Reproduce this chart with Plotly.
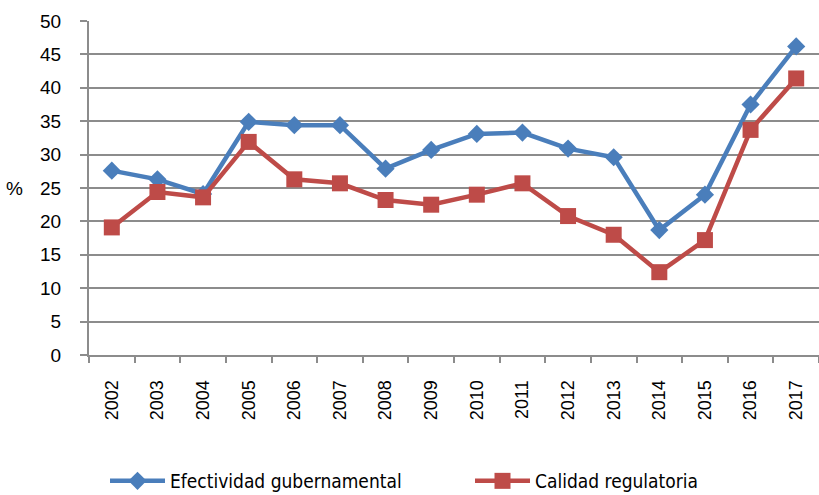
import plotly.graph_objects as go

years = ["2002", "2003", "2004", "2005", "2006", "2007", "2008", "2009",
         "2010", "2011", "2012", "2013", "2014", "2015", "2016", "2017"]
efectividad = [27.6, 26.3, 24.1, 34.9, 34.4, 34.4, 27.9, 30.7,
               33.1, 33.3, 30.9, 29.6, 18.7, 24.0, 37.5, 46.2]
calidad = [19.1, 24.4, 23.6, 31.9, 26.3, 25.7, 23.2, 22.5,
           24.0, 25.7, 20.8, 18.0, 12.4, 17.2, 33.7, 41.4]
y_ticks = [0, 5, 10, 15, 20, 25, 30, 35, 40, 45, 50]

BLUE = "#4A7EBB"
RED = "#BE4B48"
GRID = "#8C8C8C"
NARROW = "DejaVu Sans Condensed, Liberation Sans Narrow, Liberation Sans, sans-serif"

fig = go.Figure()
fig.add_trace(go.Scatter(
    x=years, y=efectividad, name="Efectividad gubernamental",
    mode="lines+markers",
    line=dict(color=BLUE, width=4.5),
    marker=dict(symbol="diamond", size=14, color=BLUE),
))
fig.add_trace(go.Scatter(
    x=years, y=calidad, name="Calidad regulatoria",
    mode="lines+markers",
    line=dict(color=RED, width=4.5),
    marker=dict(symbol="square", size=16, color=RED),
))

fig.update_layout(
    width=819, height=495,
    margin=dict(l=89, r=0, t=21, b=140, autoexpand=False),
    paper_bgcolor="white", plot_bgcolor="white",
    font=dict(family="Liberation Sans, Arial, sans-serif", color="#000000"),
    showlegend=True,
    legend=dict(
        orientation="h", xref="container", yref="container",
        x=105 / 819, xanchor="left", y=1 - 481 / 495, yanchor="middle",
        font=dict(family=NARROW, size=19),
        entrywidth=295, entrywidthmode="pixels",
        itemwidth=55,
        bgcolor="rgba(0,0,0,0)",
    ),
    annotations=[dict(
        text="%", xref="paper", yref="paper", x=-0.088, y=0.5,
        xanchor="right", yanchor="middle", showarrow=False,
        font=dict(size=19),
    )],
)
fig.update_xaxes(
    type="category", tickangle=-90, range=[-0.5, len(years) - 0.5],
    tickfont=dict(size=18),
    showgrid=False, showline=True, linecolor=GRID, linewidth=2,
    ticks="outside", tickson="boundaries", ticklen=6, tickwidth=2, tickcolor=GRID,
    ticklabelstandoff=16, automargin=False,
)
fig.update_yaxes(
    range=[0, 50], tickvals=y_ticks,
    tickfont=dict(size=19),
    showgrid=True, gridcolor=GRID, gridwidth=2,
    showline=True, linecolor=GRID, linewidth=2,
    ticks="outside", ticklen=7, tickwidth=2, tickcolor=GRID,
    ticklabelstandoff=15, automargin=False,
    zeroline=False,
)

fig.write_html(
    "out.html",
    config={"responsive": False, "displayModeBar": False},
    post_script="document.body.style.margin='0';document.body.style.overflow='hidden';",
)
